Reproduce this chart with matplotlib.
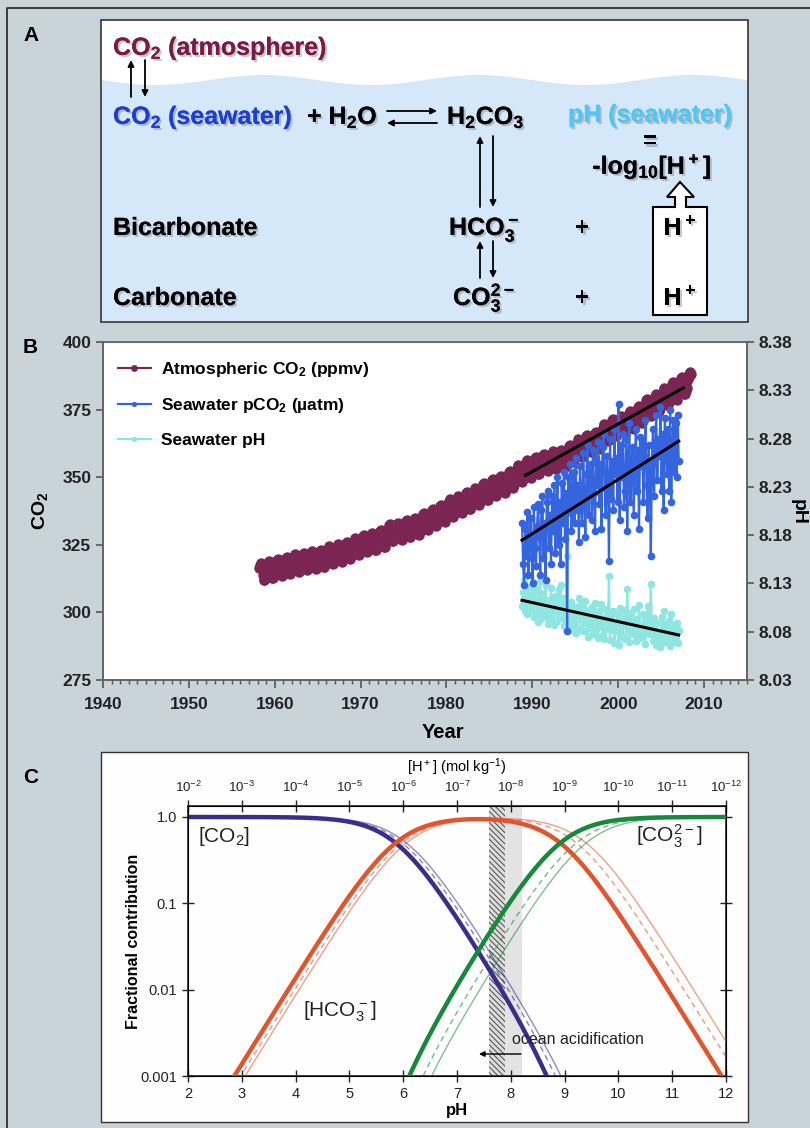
import numpy as np
import matplotlib
matplotlib.use('Agg')
import matplotlib.pyplot as plt
import matplotlib.patheffects as pe
from matplotlib.patches import Rectangle, Polygon
from matplotlib.ticker import NullLocator

plt.rcParams['font.family'] = ['Liberation Sans', 'DejaVu Sans']
plt.rcParams['mathtext.default'] = 'regular'
plt.rcParams['hatch.linewidth'] = 0.7

W, H = 810, 1128

# ---- B: Mauna Loa CO2 (annual means + mean seasonal cycle), HOT pCO2 and pH ----
co2_years = list(range(1958, 2009))
co2_annual = [315.2, 315.98, 316.91, 317.64, 318.45, 318.99, 319.62, 320.04, 321.38, 322.16,
              323.04, 324.62, 325.68, 326.32, 327.46, 329.68, 330.19, 331.12, 332.03, 333.84,
              335.41, 336.84, 338.76, 340.12, 341.48, 343.15, 344.85, 346.35, 347.61, 349.31,
              351.69, 353.20, 354.45, 355.70, 356.54, 357.21, 358.96, 360.97, 362.74, 363.88,
              366.84, 368.54, 369.71, 371.32, 373.45, 375.98, 377.70, 379.98, 382.09, 384.02,
              385.83]
co2_season = [-0.1, 0.6, 1.3, 2.5, 3.0, 2.3, 0.8, -1.3, -3.1, -3.4, -2.2, -1.0]

hot_start = 1988.8
hot_per_year = 8
pco2_hot = [333, 318, 310, 331, 321, 337, 314, 326,
            335, 320, 311, 339, 324, 317, 332, 340,
            328, 314, 338, 343, 320, 333, 312, 341,
            345, 324, 336, 318, 343, 330, 347, 322,
            337, 350, 325, 341, 318, 348, 333, 352,
            327, 344, 293, 350, 337, 355, 330, 345,
            352, 333, 357, 338, 347, 326, 354, 340,
            333, 359, 342, 328, 351, 362, 336, 348,
            355, 334, 360, 344, 330, 357, 347, 363,
            340, 355, 331, 361, 366, 346, 336, 358,
            349, 319, 364, 342, 356, 338, 368, 351,
            357, 341, 377, 334, 362, 350, 366, 339,
            345, 364, 330, 357, 370, 341, 355, 361,
            336, 352, 368, 345, 360, 331, 365, 354,
            364, 341, 358, 371, 347, 335, 362, 352,
            321, 356, 368, 343, 360, 373, 349, 364,
            358, 376, 345, 366, 338, 372, 361, 351,
            368, 345, 375, 341, 362, 371, 352, 370,
            350, 373, 356]
ph_hot = [8.107, 8.121, 8.134, 8.101, 8.117, 8.098, 8.126, 8.112,
          8.102, 8.118, 8.131, 8.095, 8.113, 8.124, 8.099, 8.090,
          8.121, 8.133, 8.104, 8.094, 8.119, 8.101, 8.128, 8.096,
          8.088, 8.113, 8.099, 8.125, 8.092, 8.108, 8.087, 8.117,
          8.112, 8.091, 8.124, 8.100, 8.128, 8.094, 8.115, 8.086,
          8.109, 8.095, 8.158, 8.089, 8.104, 8.082, 8.111, 8.098,
          8.087, 8.106, 8.079, 8.102, 8.093, 8.115, 8.084, 8.098,
          8.108, 8.081, 8.097, 8.112, 8.089, 8.075, 8.103, 8.092,
          8.084, 8.106, 8.078, 8.095, 8.110, 8.083, 8.093, 8.074,
          8.101, 8.086, 8.109, 8.077, 8.072, 8.094, 8.104, 8.083,
          8.090, 8.138, 8.071, 8.097, 8.082, 8.101, 8.068, 8.087,
          8.081, 8.098, 8.066, 8.105, 8.077, 8.091, 8.074, 8.102,
          8.095, 8.072, 8.124, 8.085, 8.069, 8.099, 8.083, 8.078,
          8.104, 8.086, 8.070, 8.093, 8.079, 8.108, 8.073, 8.087,
          8.076, 8.098, 8.083, 8.067, 8.092, 8.107, 8.078, 8.089,
          8.129, 8.081, 8.070, 8.094, 8.076, 8.066, 8.089, 8.073,
          8.079, 8.064, 8.095, 8.074, 8.101, 8.069, 8.082, 8.088,
          8.071, 8.091, 8.065, 8.098, 8.077, 8.069, 8.087, 8.072,
          8.089, 8.068, 8.082]

# ---- C: dissociation constants (pK1*, pK2*) for the three curve sets ----
pk1_sets = [5.86, 5.98, 6.06]
pk2_sets = [8.92, 9.22, 9.40]
set_styles = [dict(lw=3.2, ls='-', alpha=1.0),
              dict(lw=1.0, ls=(0, (4, 3)), alpha=0.6),
              dict(lw=1.0, ls='-', alpha=0.55)]
ph_axis = np.linspace(2, 12, 500)


def px_rect(x0, y0, x1, y1):
    return [x0 / W, 1 - y1 / H, (x1 - x0) / W, (y1 - y0) / H]


fig = plt.figure(figsize=(W / 100, H / 100), dpi=100)
fig.patch.set_facecolor('#c9d3da')

bg = fig.add_axes([0, 0, 1, 1], zorder=0)
bg.set_xlim(0, W)
bg.set_ylim(H, 0)
bg.axis('off')

# outer frame
bg.plot([7, 7, W], [H, 8, 8], color='#222222', lw=1.2)

# panel letters
for letter, x, y in [('A', 23, 41), ('B', 23, 353), ('C', 23, 783)]:
    bg.text(x, y, letter, fontsize=15, fontweight='bold', va='baseline')

# ================= A =================
bg.add_patch(Rectangle((101, 20), 647, 302, facecolor='white', edgecolor='#333333', lw=1.2, zorder=1))
wx = np.linspace(102, 747, 200)
wy = 80 + 5 * np.sin(2 * np.pi * (wx - 102) / 215)
water = np.column_stack([np.r_[wx, 747, 102], np.r_[wy, 321, 321]])
bg.add_patch(Polygon(water, closed=True, facecolor='#d5e8fa', edgecolor='none', zorder=1.5))

shadow = [pe.withSimplePatchShadow(offset=(1.5, -1.5), shadow_rgbFace='#666666', alpha=0.35), pe.Normal()]


def txt(x, y, s, color='black', ha='left'):
    bg.text(x, y, s, fontsize=18, fontweight='bold', color=color, ha=ha, va='baseline',
            path_effects=shadow, zorder=3)


def arrow(x0, y0, x1, y1):
    bg.annotate('', xy=(x1, y1), xytext=(x0, y0), zorder=3,
                arrowprops=dict(arrowstyle='-|>', lw=1.3, color='black', mutation_scale=9,
                                shrinkA=0, shrinkB=0))


txt(113, 55, 'CO$_2$ (atmosphere)', color='#7a1a48')
arrow(131, 97, 131, 60)
arrow(145, 60, 145, 97)
txt(113, 124, 'CO$_2$ (seawater)', color='#1c3fd0')
txt(307, 124, '+ H$_2$O')
arrow(387, 111, 437, 111)
arrow(437, 123, 387, 123)
txt(447, 124, 'H$_2$CO$_3$')
txt(650, 122, 'pH (seawater)', color='#52c6f2', ha='center')
txt(650, 148, '=', ha='center')
txt(652, 174, '-log$_{10}$[H$^+$]', ha='center')
arrow(480, 207, 480, 136)
arrow(493, 136, 493, 207)
txt(113, 235, 'Bicarbonate')
txt(449, 235, 'HCO$_3^-$')
txt(582, 235, '+', ha='center')
arrow(480, 278, 480, 241)
arrow(493, 241, 493, 278)
txt(113, 305, 'Carbonate')
txt(453, 305, 'CO$_3^{2-}$')
txt(582, 305, '+', ha='center')

hbox = [(653, 315), (653, 207), (675, 207), (675, 197), (667, 197), (680, 182),
        (694, 197), (686, 197), (686, 207), (707, 207), (707, 315)]
bg.add_patch(Polygon(hbox, closed=True, facecolor='white', edgecolor='black', lw=1.5, zorder=2.5))
txt(680, 235, 'H$^+$', ha='center')
txt(680, 305, 'H$^+$', ha='center')

# ================= B =================
co2_t, co2_v = [], []
for i, yr in enumerate(co2_years):
    for m in range(12):
        if (yr == 1958 and m < 2) or (yr == 2008 and m > 5):
            continue
        co2_t.append(yr + (m + 0.5) / 12)
        co2_v.append(co2_annual[i] + co2_season[m])
co2_t = np.array(co2_t)
co2_v = np.array(co2_v)
hot_t = hot_start + np.arange(len(pco2_hot)) / hot_per_year

axB = fig.add_axes(px_rect(103, 342, 747, 680), zorder=2)
axP = axB.twinx()
axB.set_xlim(1940, 2015)
axB.set_ylim(275, 400)
axP.set_ylim(8.03, 8.38)

l1, = axB.plot(co2_t, co2_v, '-o', color='#7b2552', ms=6.5, lw=1.5, zorder=2)
l3, = axB.plot(hot_t, ph_hot, '-o', color='#8fe5e0', ms=4.5, lw=1.6, zorder=3,
               transform=axP.transData)
l2, = axB.plot(hot_t, pco2_hot, '-o', color='#3565de', ms=4.5, lw=1.6, zorder=4)

# linear trends
sel = co2_t >= 1989
c = np.polyfit(co2_t[sel], co2_v[sel], 1)
tt = np.array([1989.2, 2007.6])
axB.plot(tt, np.polyval(c, tt), color='black', lw=2.2, zorder=5)
c = np.polyfit(hot_t, pco2_hot, 1)
tt = np.array([hot_t[0], hot_t[-1]])
axB.plot(tt, np.polyval(c, tt), color='black', lw=2.2, zorder=5)
c = np.polyfit(hot_t, ph_hot, 1)
axB.plot(tt, np.polyval(c, tt), color='black', lw=2.2, zorder=5, transform=axP.transData)

axB.legend([l1, l2, l3], ['Atmospheric CO$_2$ (ppmv)', 'Seawater pCO$_2$ (µatm)', 'Seawater pH'],
           loc='upper left', bbox_to_anchor=(15 / 644, 1 - 18 / 338), frameon=False,
           prop={'weight': 'bold', 'size': 12.5}, handlelength=1.9, handletextpad=0.6,
           labelspacing=1.0, borderpad=0, borderaxespad=0, markerscale=0.6, numpoints=1)

axB.set_xticks(range(1940, 2011, 10))
axB.xaxis.set_minor_locator(matplotlib.ticker.MultipleLocator(1))
axB.set_yticks(range(275, 401, 25))
axP.set_yticks([8.03, 8.08, 8.13, 8.18, 8.23, 8.28, 8.33, 8.38])
axP.set_yticklabels(['8.03', '8.08', '8.13', '8.18', '8.23', '8.28', '8.33', '8.38'])
for a in (axB, axP):
    a.tick_params(which='major', direction='out', length=5, width=1.2, color='#555555',
                  labelsize=12.5, labelcolor='#222222')
    a.tick_params(which='minor', direction='out', length=3, width=1, color='#555555')
    for sp in a.spines.values():
        sp.set_color('#666666')
        sp.set_linewidth(1.3)
    for lab in a.get_xticklabels() + a.get_yticklabels():
        lab.set_fontweight('bold')
axB.tick_params(axis='x', which='major', length=6, pad=6)
axB.spines['top'].set_linewidth(0.8)
axB.spines['top'].set_color('#999999')

bg.text(40, 511, 'CO$_2$', rotation=90, fontsize=14, fontweight='bold', ha='center', va='center')
bg.text(443, 733, 'Year', fontsize=14.5, fontweight='bold', ha='center', va='center')
bg.text(798, 512, 'pH', rotation=270, fontsize=14, fontweight='bold', ha='center', va='center')

# ================= C =================
bg.add_patch(Rectangle((101, 752), 647, 370, facecolor='#fefefe', edgecolor='#333333', lw=1.0, zorder=1))

axC = fig.add_axes(px_rect(188, 806, 726, 1076), zorder=2)
axC.set_facecolor('none')
axC.set_yscale('log')
axC.set_xlim(2, 12)
axC.set_ylim(0.001, 1.34)

axC.axvspan(7.9, 8.2, facecolor='#e3e3e3', edgecolor='none', zorder=1)
axC.axvspan(7.6, 7.9, facecolor='#dcdcdc', edgecolor='#4a4a4a', hatch='\\\\\\\\\\\\', lw=0, zorder=1)

purple, orange, green = '#3b2d8e', '#e4532c', '#17893b'
h = 10.0 ** -ph_axis
for k in (2, 1, 0):
    k1, k2 = 10.0 ** -pk1_sets[k], 10.0 ** -pk2_sets[k]
    d = h * h + k1 * h + k1 * k2
    st = set_styles[k]
    for frac, col in [(h * h / d, purple), (k1 * h / d, orange), (k1 * k2 / d, green)]:
        axC.plot(ph_axis, frac, color=col, lw=st['lw'], ls=st['ls'], alpha=st['alpha'], zorder=3)

axC.set_xticks(range(2, 13))
axC.set_yticks([0.001, 0.01, 0.1, 1.0])
axC.set_yticklabels(['0.001', '0.01', '0.1', '1.0'])
axC.yaxis.set_minor_locator(NullLocator())
axC.tick_params(direction='inout', length=9, width=1, right=True, labelsize=10.5, colors='#222222')
for sp in axC.spines.values():
    sp.set_linewidth(1.2)
    sp.set_color('#222222')

axT = axC.twiny()
axT.set_xlim(2, 12)
axT.set_xticks(range(2, 13))
axT.set_xticklabels(['10$^{-%d}$' % n for n in range(2, 13)])
axT.tick_params(direction='inout', length=9, width=1, labelsize=9.5, colors='#222222')

ct = bg.transData
axC.text(457, 767, '[H$^+$] (mol kg$^{-1}$)', transform=ct, fontsize=10.5, ha='center', va='center')
axC.text(134, 941, 'Fractional contribution', transform=ct, rotation=90, fontsize=11.5,
         fontweight='bold', ha='center', va='center')
axC.text(457, 1110, 'pH', transform=ct, fontsize=12, fontweight='bold', ha='center', va='center')
axC.text(198, 836, '[CO$_2$]', transform=ct, fontsize=15, ha='left', va='center', color='#222222')
axC.text(636, 836, '[CO$_3^{2-}$]', transform=ct, fontsize=15, ha='left', va='center', color='#222222')
axC.text(303, 1012, '[HCO$_3^-$]', transform=ct, fontsize=15, ha='left', va='center', color='#222222')
axC.text(512, 1040, 'ocean acidification', transform=ct, fontsize=11.5, ha='left', va='center',
         color='#222222', zorder=5)
axC.annotate('', xy=(479, 1054), xytext=(521, 1054), xycoords=ct, textcoords=ct, zorder=5,
             arrowprops=dict(arrowstyle='-|>', lw=1.0, color='black', mutation_scale=8,
                             shrinkA=0, shrinkB=0))

fig.savefig('out.png', dpi=100, facecolor=fig.get_facecolor())
